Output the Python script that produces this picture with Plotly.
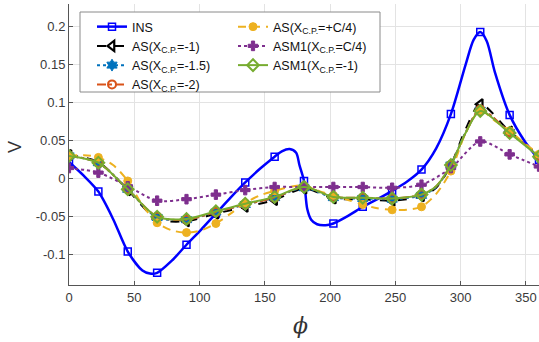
import plotly.graph_objects as go

# ---------------- data ----------------
phi_ins = [0, 11.25, 22.5, 33.75, 45, 56.25, 62, 67.5, 78.75, 90, 101.25, 112.5, 123.75, 135,
           146.25, 157.5, 163, 169, 174, 176.5, 180, 182.5, 185.5, 190, 198, 202.5, 213.75, 225,
           236.25, 247.5, 258.75, 270, 281.25, 292.5, 303.75, 310, 315, 320, 326.25, 337.5, 348.75, 360]
v_ins = [0.022, 0.004, -0.017, -0.053, -0.096, -0.121, -0.125, -0.124, -0.108, -0.087, -0.067, -0.046,
         -0.025, -0.005, 0.013, 0.029, 0.036, 0.039, 0.034, 0.018, -0.003, -0.040, -0.054, -0.060,
         -0.061, -0.059, -0.049, -0.037, -0.027, -0.016, -0.004, 0.012, 0.040, 0.085, 0.150, 0.183,
         0.193, 0.181, 0.140, 0.084, 0.050, 0.025]

phi_c = [0, 22.5, 45, 67.5, 90, 112.5, 135, 157.5, 180, 202.5, 225, 247.5, 270, 281.25, 292.5,
         303.75, 315, 337.5, 360]
v_as_m1 = [0.031, 0.022, -0.015, -0.053, -0.056, -0.046, -0.037, -0.028, -0.013, -0.026, -0.027,
           -0.029, -0.023, -0.012, 0.018, 0.065, 0.098, 0.062, 0.030]
v_as_m15 = [0.030, 0.021, -0.014, -0.051, -0.054, -0.044, -0.034, -0.025, -0.012, -0.025, -0.026,
            -0.027, -0.022, -0.011, 0.018, 0.061, 0.090, 0.061, 0.030]
v_as_m2 = [0.030, 0.021, -0.014, -0.050, -0.054, -0.044, -0.034, -0.025, -0.011, -0.024, -0.025,
           -0.026, -0.021, -0.010, 0.018, 0.060, 0.091, 0.061, 0.030]
v_asm1_m1 = [0.030, 0.021, -0.014, -0.050, -0.053, -0.043, -0.033, -0.024, -0.011, -0.024, -0.025,
             -0.026, -0.021, -0.010, 0.018, 0.060, 0.089, 0.060, 0.029]

phi_y = [0, 11.25, 22.5, 33.75, 45, 56.25, 67.5, 78.75, 90, 101.25, 112.5, 123.75, 135, 146.25,
         157.5, 168.75, 180, 191.25, 202.5, 213.75, 225, 236.25, 247.5, 258.75, 270, 281.25, 292.5,
         303.75, 315, 326.25, 337.5, 348.75, 360]
v_as_c4 = [0.030, 0.031, 0.028, 0.018, -0.003, -0.035, -0.058, -0.068, -0.071, -0.068, -0.059,
           -0.046, -0.032, -0.022, -0.016, -0.011, -0.009, -0.016, -0.022, -0.028, -0.034, -0.039,
           -0.041, -0.041, -0.037, -0.020, 0.010, 0.060, 0.090, 0.076, 0.063, 0.047, 0.032]

phi_p = [0, 22.5, 45, 67.5, 90, 112.5, 135, 157.5, 180, 202.5, 225, 247.5, 270, 292.5, 315, 337.5, 360]
v_asm1_c4 = [0.014, 0.008, -0.010, -0.029, -0.027, -0.021, -0.015, -0.011, -0.011, -0.011, -0.011,
             -0.012, -0.008, 0.014, 0.049, 0.032, 0.016]

x_ticks = [0, 50, 100, 150, 200, 250, 300, 350]
y_ticks = [-0.1, -0.05, 0, 0.05, 0.1, 0.15, 0.2]
y_tick_labels = ["-0.1", "-0.05", "0", "0.05", "0.1", "0.15", "0.2"]

names = {
    "ins": "INS",
    "as_m1": "AS(X<sub>C.P.</sub>=-1)",
    "as_m15": "AS(X<sub>C.P.</sub>=-1.5)",
    "as_m2": "AS(X<sub>C.P.</sub>=-2)",
    "as_c4": "AS(X<sub>C.P.</sub>=+C/4)",
    "asm1_c4": "ASM1(X<sub>C.P.</sub>=C/4)",
    "asm1_m1": "ASM1(X<sub>C.P.</sub>=-1)",
}

# ---------------- figure ----------------
fig = go.Figure()


def add_series(x, y, name, color, dash, width, symbol, msize, mline, legend):
    on_grid = [abs(a / 22.5 - round(a / 22.5)) < 1e-9 for a in x]
    mk_x = [a for a, g in zip(x, on_grid) if g]
    mk_y = [b for b, g in zip(y, on_grid) if g]
    marker = dict(symbol=symbol, size=msize, color=color,
                  line=dict(color=color, width=mline))
    fig.add_trace(go.Scatter(x=x, y=y, mode="lines", showlegend=False,
                             line=dict(color=color, dash=dash, width=width,
                                       shape="spline", smoothing=0.8),
                             hoverinfo="skip"))
    fig.add_trace(go.Scatter(x=mk_x, y=mk_y, mode="markers", showlegend=False,
                             marker=marker, hoverinfo="skip"))
    fig.add_trace(go.Scatter(x=[None], y=[None], mode="lines+markers", name=name,
                             legend=legend,
                             line=dict(color=color, dash=dash, width=width),
                             marker=marker))


add_series(phi_ins, v_ins, names["ins"], "#0000FF", "solid", 2.5, "square-open", 7, 1.5, "legend")
add_series(phi_c, v_as_m1, names["as_m1"], "#000000", "dash", 2, "triangle-left-open", 9, 2.2, "legend")
add_series(phi_c, v_as_m15, names["as_m15"], "#0072BD", "dot", 2, "hexagram", 9, 1, "legend")
add_series(phi_c, v_as_m2, names["as_m2"], "#D95319", "dashdot", 2, "circle-open", 8, 2, "legend")
add_series(phi_y, v_as_c4, names["as_c4"], "#EDB120", "8px,6px", 2, "circle", 8, 1, "legend2")
add_series(phi_p, v_asm1_c4, names["asm1_c4"], "#7E2F8E", "dot", 2, "cross", 8, 1, "legend2")
add_series(phi_c, v_asm1_m1, names["asm1_m1"], "#77AC30", "solid", 2, "diamond-open", 9, 2, "legend2")

W, H = 539, 342
ML, MR, MT, MB = 69, 0, 4, 57
pw, ph = W - ML - MR, H - MT - MB


def px2paper_x(px):
    return (px - ML) / pw


def px2paper_y(py):
    return (H - MB - py) / ph


font_family = "Liberation Sans, Arial, sans-serif"

fig.update_layout(
    width=W, height=H,
    margin=dict(l=ML, r=MR, t=MT, b=MB, pad=0),
    plot_bgcolor="white", paper_bgcolor="white",
    font=dict(family=font_family, size=12, color="#333333"),
    xaxis=dict(range=[0, 360], tickvals=x_ticks, ticks="inside", ticklen=4,
               tickcolor="#555555", showgrid=True, gridcolor="#e3e3e3", gridwidth=1,
               showline=True, linecolor="#555555", linewidth=1, zeroline=False,
               automargin=False, tickfont=dict(size=13, color="#3a3a3a")),
    yaxis=dict(range=[-0.14, 0.23], tickvals=y_ticks, ticktext=y_tick_labels,
               ticks="inside", ticklen=4, tickcolor="#555555", showgrid=True,
               gridcolor="#e3e3e3", gridwidth=1, showline=True, linecolor="#555555",
               linewidth=1, zeroline=False, automargin=False,
               tickfont=dict(size=13, color="#3a3a3a")),
    legend=dict(x=px2paper_x(92), y=px2paper_y(12), xanchor="left", yanchor="top",
                bgcolor="rgba(0,0,0,0)", borderwidth=0,
                font=dict(family=font_family, size=12.5, color="#111111"),
                tracegroupgap=0),
    legend2=dict(x=px2paper_x(233), y=px2paper_y(12), xanchor="left", yanchor="top",
                 bgcolor="rgba(0,0,0,0)", borderwidth=0,
                 font=dict(family=font_family, size=12.5, color="#111111"),
                 tracegroupgap=0),
    shapes=[dict(type="rect", xref="paper", yref="paper",
                 x0=px2paper_x(80), x1=px2paper_x(380),
                 y0=px2paper_y(92), y1=px2paper_y(12),
                 line=dict(color="#8a8a8a", width=1), fillcolor="white", layer="above")],
    annotations=[
        dict(text="V", xref="paper", yref="paper", x=px2paper_x(15), y=px2paper_y(147),
             showarrow=False, textangle=-90, xanchor="center", yanchor="middle",
             font=dict(family=font_family, size=18, color="#333333")),
        dict(text="<i>ϕ</i>", xref="paper", yref="paper", x=px2paper_x(300), y=px2paper_y(325),
             showarrow=False, xanchor="center", yanchor="middle",
             font=dict(family="DejaVu Serif, serif", size=22, color="#333333")),
    ],
)

fig.write_html("out.html", config={"displayModeBar": False},
               post_script="document.body.style.margin='0px';")
